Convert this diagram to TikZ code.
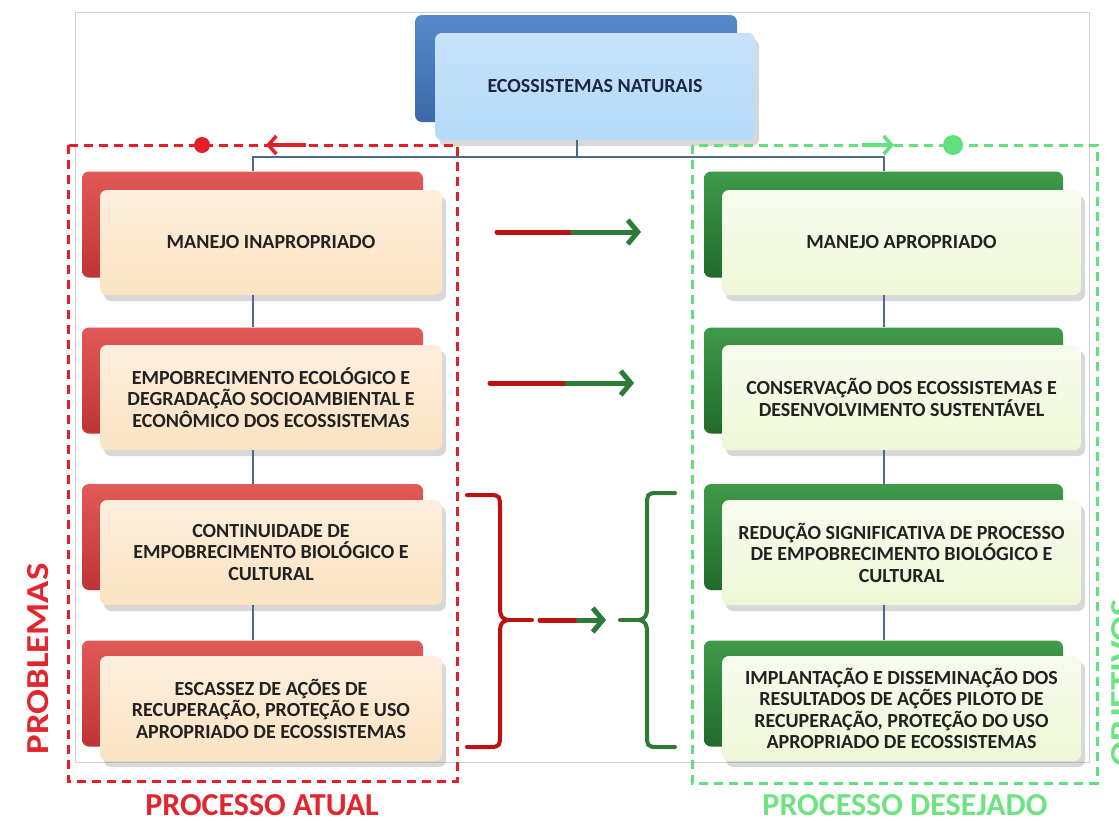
\documentclass[tikz,border=0pt]{standalone}
\usepackage{fontspec}
\setmainfont{Carlito}
\usetikzlibrary{shadows,arrows.meta}
\definecolor{blueT}{HTML}{5689CC}
\definecolor{blueB}{HTML}{3A69A8}
\definecolor{lblueT}{HTML}{C6E2FA}
\definecolor{lblueM}{HTML}{A3CBF3}
\definecolor{lblueB}{HTML}{B5DAF7}
\definecolor{redT}{HTML}{E25A57}
\definecolor{redB}{HTML}{BE3436}
\definecolor{peachT}{HTML}{FDEEDD}
\definecolor{peachM}{HTML}{FAD6B6}
\definecolor{peachB}{HTML}{FBE3C2}
\definecolor{greenT}{HTML}{3E9A48}
\definecolor{greenB}{HTML}{226A2C}
\definecolor{lgreenT}{HTML}{F7FBEE}
\definecolor{lgreenM}{HTML}{EAF6CF}
\definecolor{lgreenB}{HTML}{EEF8D6}
\definecolor{txt}{HTML}{222222}
\definecolor{navytxt}{HTML}{1C2742}
\definecolor{conn}{HTML}{4A6B94}
\definecolor{frameR}{HTML}{E3202A}
\definecolor{frameG}{HTML}{62E07E}
\definecolor{labR}{HTML}{E3262E}
\definecolor{labG}{HTML}{6FE282}
\definecolor{arrR}{HTML}{BE1212}
\definecolor{arrG}{HTML}{2E7B38}
\begin{document}
\begin{tikzpicture}[x=1pt,y=-1pt,
  backbox/.style={rounded corners=7pt, inner sep=0pt, draw=none},
  frontbox/.style={rounded corners=7pt, inner sep=0pt, align=center, draw=none,
    font=\fontsize{20}{21.5}\selectfont\bfseries, text=txt,
    drop shadow={opacity=0.3, shadow xshift=4pt, shadow yshift=-6pt}},
  backL/.style={backbox, top color=redT, bottom color=redB, minimum width=341pt, minimum height=106pt},
  frontL/.style={frontbox, top color=peachT, middle color=peachM, bottom color=peachB, minimum width=342pt, minimum height=105pt},
  backRt/.style={backbox, top color=greenT, bottom color=greenB, minimum width=359pt, minimum height=106pt},
  frontRt/.style={frontbox, top color=lgreenT, middle color=lgreenM, bottom color=lgreenB, minimum width=359pt, minimum height=105pt},
  link/.style={draw=conn, line width=2pt},
  dashframe/.style={line width=3pt, dash pattern=on 9pt off 6pt},
  bigarrow/.style={line width=5pt, line cap=round},
  bracket/.style={line width=4pt, line cap=round},
  biglabel/.style={font=\fontsize{32}{36}\selectfont\bfseries, inner sep=0pt}
]
\useasboundingbox (0,0) rectangle (1119,820);
\clip (0,0) rectangle (1119,820);
\fill[white] (0,0) rectangle (1119,820);
% light frame of the inner picture
\draw[black!18, line width=1pt] (75,12) rectangle (1089,762);

% top box
\node[backbox, top color=blueT, bottom color=blueB, minimum width=322pt, minimum height=107pt] (ecob) at (576,68.5) {};
\node[frontbox, top color=lblueT, middle color=lblueM, bottom color=lblueB, minimum width=320pt, minimum height=107pt, text=navytxt] (eco) at (595,86.5) {ECOSSISTEMAS NATURAIS};

% left column
\node[backL] (l1b) at (252.5,224.5) {};
\node[frontL] (l1) at (271,242.5) {MANEJO INAPROPRIADO};
\node[backL] (l2b) at (252.5,380.5) {};
\node[frontL] (l2) at (271,397.5) {EMPOBRECIMENTO ECOLÓGICO E\\DEGRADAÇÃO SOCIOAMBIENTAL E\\ECONÔMICO DOS ECOSSISTEMAS};
\node[backL] (l3b) at (252.5,537) {};
\node[frontL] (l3) at (271,552.5) {CONTINUIDADE DE\\EMPOBRECIMENTO BIOLÓGICO E\\CULTURAL};
\node[backL] (l4b) at (252.5,693.5) {};
\node[frontL] (l4) at (271,708.5) {ESCASSEZ DE AÇÕES DE\\RECUPERAÇÃO, PROTEÇÃO E USO\\APROPRIADO DE ECOSSISTEMAS};

% right column
\node[backRt] (r1b) at (883.5,224.5) {};
\node[frontRt] (r1) at (901.5,242.5) {MANEJO APROPRIADO};
\node[backRt] (r2b) at (883.5,380.5) {};
\node[frontRt] (r2) at (901.5,397.5) {CONSERVAÇÃO DOS ECOSSISTEMAS E\\DESENVOLVIMENTO SUSTENTÁVEL};
\node[backRt] (r3b) at (883.5,537) {};
\node[frontRt] (r3) at (901.5,552.5) {REDUÇÃO SIGNIFICATIVA DE PROCESSO\\DE EMPOBRECIMENTO BIOLÓGICO E\\CULTURAL};
\node[backRt] (r4b) at (883.5,693.5) {};
\node[frontRt] (r4) at (901.5,708.5) {IMPLANTAÇÃO E DISSEMINAÇÃO DOS\\RESULTADOS DE AÇÕES PILOTO DE\\RECUPERAÇÃO, PROTEÇÃO DO USO\\APROPRIADO DE ECOSSISTEMAS};

% connectors
\coordinate (hub) at (577,157);
\draw[link] (hub |- eco.south) -- (hub);
\draw[link] (l1b.north) |- (hub) -| (r1b.north);
\draw[link] (l1.south -| l1b.north) -- (l2b.north);
\draw[link] (l2.south -| l2b.north) -- (l3b.north);
\draw[link] (l3.south -| l3b.north) -- (l4b.north);
\draw[link] (r1.south -| r1b.north) -- (r2b.north);
\draw[link] (r2.south -| r2b.north) -- (r3b.north);
\draw[link] (r3.south -| r3b.north) -- (r4b.north);

% dashed frames
\draw[dashframe, frameR] (68,145) rectangle (457,781);
\draw[dashframe, frameG] (692,145) rectangle (1097,783);
\coordinate (ra1) at (306,145); \coordinate (ra2) at (266,145);
\draw[frameR, line width=3.5pt, -{Straight Barb[length=8pt,width=18pt]}] (ra1) -- (ra2);
\fill[frameR] (202,145) circle (8);
\coordinate (ga1) at (862,145); \coordinate (ga2) at (894,145);
\draw[frameG, line width=3.5pt, -{Straight Barb[length=8pt,width=18pt]}] (ga1) -- (ga2);
\fill[frameG] (953,145) circle (10);

% middle arrows
\coordinate (m1a) at (497,232); \coordinate (m1b) at (573,232); \coordinate (m1c) at (641,232);
\draw[bigarrow, arrR] (m1a) -- (m1b);
\draw[bigarrow, arrG, -{Straight Barb[length=10pt,width=24pt]}] (m1b) -- (m1c);
\coordinate (m2a) at (490,383); \coordinate (m2b) at (567,383); \coordinate (m2c) at (634,383);
\draw[bigarrow, arrR] (m2a) -- (m2b);
\draw[bigarrow, arrG, -{Straight Barb[length=10pt,width=24pt]}] (m2b) -- (m2c);

% brackets
\draw[bracket, arrR] (467,495) -- (490,495) .. controls (500,495) and (500,497) .. (500,507)
  -- (500,608) .. controls (500,616) and (502,619) .. (508,620)
  .. controls (502,621) and (500,624) .. (500,632) -- (500,735)
  .. controls (500,745) and (500,747) .. (490,747) -- (467,747);
\coordinate (b1) at (508,620); \coordinate (b2) at (532,620);
\draw[bracket, arrR] (b1) -- (b2);
\coordinate (m3a) at (540,620); \coordinate (m3b) at (578,620); \coordinate (m3c) at (606,620);
\draw[bigarrow, arrR] (m3a) -- (m3b);
\draw[bigarrow, arrG, -{Straight Barb[length=10pt,width=24pt]}] (m3b) -- (m3c);
\draw[bracket, arrG] (675,493) -- (657,493) .. controls (647,493) and (647,495) .. (647,505)
  -- (647,608) .. controls (647,616) and (645,619) .. (639,620)
  .. controls (645,621) and (647,624) .. (647,632) -- (647,735)
  .. controls (647,745) and (647,747) .. (657,747) -- (675,747);
\coordinate (g1) at (639,620); \coordinate (g2) at (620,620);
\draw[bracket, arrG] (g1) -- (g2);

% labels
\node[biglabel, text=labR, rotate=90] (prob) at (38,659) {\scalebox{1.15}[1]{PROBLEMAS}};
\node[biglabel, text=labG, rotate=90] (obj) at (1122,683) {\scalebox{1.15}[1]{OBJETIVOS}};
\node[biglabel, text=labR] (atual) at (262,805) {PROCESSO ATUAL};
\node[biglabel, text=labG] (desej) at (905,805) {PROCESSO DESEJADO};
\end{tikzpicture}
\end{document}
